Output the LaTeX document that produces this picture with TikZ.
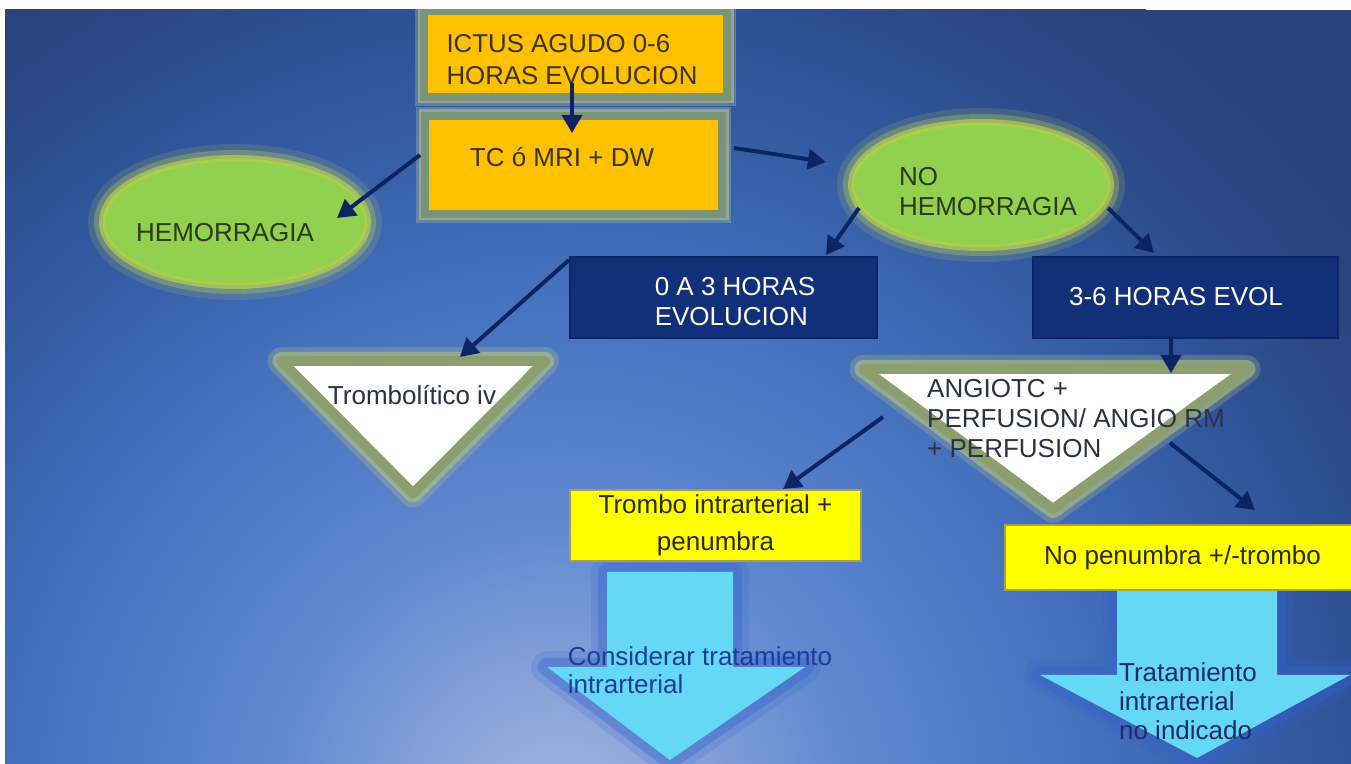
\documentclass[tikz,border=0pt]{standalone}
\usepackage{fontspec}
\setmainfont{Liberation Sans}
\usetikzlibrary{arrows.meta,shapes.geometric}
\definecolor{bgA}{HTML}{A4B8E0}
\definecolor{bgB}{HTML}{90A9DB}
\definecolor{bgC}{HTML}{5F88D0}
\definecolor{bgD}{HTML}{4470BC}
\definecolor{bgE}{HTML}{3258A0}
\definecolor{bgF}{HTML}{2A4884}
\definecolor{bgG}{HTML}{27427C}
\definecolor{orangec}{HTML}{FFC000}
\definecolor{oborder}{HTML}{7A9478}
\definecolor{oglow}{HTML}{B0C098}
\definecolor{greenc}{HTML}{92D050}
\definecolor{grim}{HTML}{A8D048}
\definecolor{gglow}{HTML}{C4D850}
\definecolor{navyc}{HTML}{12307A}
\definecolor{navyd}{HTML}{0C2566}
\definecolor{trib}{HTML}{8C9E6E}
\definecolor{tglow}{HTML}{C2CC80}
\definecolor{yellowc}{HTML}{FFFF00}
\definecolor{yborder}{HTML}{A8A040}
\definecolor{cyanc}{HTML}{64D8F4}
\definecolor{cglow}{HTML}{3362CC}
\definecolor{arrowc}{HTML}{0C2464}
\definecolor{txtor}{HTML}{3A3414}
\definecolor{txtgr}{HTML}{2E3A18}
\definecolor{txttri}{HTML}{2C3048}
\definecolor{txtyel}{HTML}{2A2A0E}
\definecolor{txtcya}{HTML}{1E3C9A}
\definecolor{txtcyb}{HTML}{1E2C66}
\pgfdeclareradialshading{bgshade}{\pgfpoint{0bp}{0bp}}{color(0bp)=(bgA); color(2.5bp)=(bgB); color(7.5bp)=(bgC); color(13.5bp)=(bgD); color(18.5bp)=(bgE); color(22.5bp)=(bgF); color(25bp)=(bgG); color(50bp)=(bgG)}
\begin{document}
\begin{tikzpicture}[x=0.5pt,y=-0.5pt,
  every node/.style={inner sep=0pt, outer sep=0pt, font=\fontsize{13}{15}\selectfont},
  conn/.style={draw=arrowc, line width=2pt, -{Triangle[length=9pt,width=10pt]}},
  obox/.style={rectangle, fill=orangec, draw=oborder, line width=4pt,
     preaction={draw=oglow, line width=9pt, opacity=.35},
     preaction={draw=oglow, line width=6.5pt, opacity=.6}},
  gell/.style={ellipse, fill=greenc, draw=grim, line width=1.5pt,
     preaction={draw=gglow, line width=16pt, opacity=.15},
     preaction={draw=gglow, line width=10pt, opacity=.3},
     preaction={draw=gglow, line width=5pt, opacity=.6}},
  nbox/.style={rectangle, fill=navyc, draw=navyd, line width=1pt},
  ybox/.style={rectangle, fill=yellowc, draw=yborder, line width=1pt},
  tri/.style={fill=white, draw=trib, line width=5pt, line join=round,
     preaction={draw=tglow, line width=14pt, opacity=.25, line join=round},
     preaction={draw=tglow, line width=9pt, opacity=.5, line join=round}},
  cyarrow/.style={fill=cyanc, line join=round,
     preaction={draw=cglow, line width=16pt, opacity=.18, line join=round},
     preaction={draw=cglow, line width=9pt, opacity=.35, line join=round}}
]
\useasboundingbox (0,0) rectangle (1351,764);
\fill[white] (0,0) rectangle (1351,764);
\begin{scope}
\clip (5,10) rectangle (1351,764);
\fill[bgG] (5,10) rectangle (1351,764);
\shade[shading=bgshade] (560,820) circle (500pt);

% orange boxes
\node[obox, minimum width=151.5pt, minimum height=43pt] (ictus) at (575.5,54) {};
\node[text=txtor, align=left, font=\fontsize{12.9}{16}\selectfont] (ictust) at (572,60) {ICTUS AGUDO 0-6\\HORAS EVOLUCION};
\node[obox, minimum width=148.5pt, minimum height=49pt] (tc) at (573.5,165) {};
\node[text=txtor] (tct) at (562,157) {TC ó MRI + DW};

% green ellipses
\node[gell, minimum width=131pt, minimum height=62pt] (hem) at (235,222) {};
\node[text=txtgr] (hemt) at (225,233) {HEMORRAGIA};
\node[gell, minimum width=128pt, minimum height=61pt] (nohem) at (981,185) {};
\node[text=txtgr, align=left] (nohemt) at (988,192) {NO\\HEMORRAGIA};

% navy boxes
\node[nbox, minimum width=153.5pt, minimum height=40.5pt] (b03) at (723.5,297.5) {};
\node[text=white, align=left] (b03t) at (735,302) {0 A 3 HORAS\\EVOLUCION};
\node[nbox, minimum width=152.5pt, minimum height=40.5pt] (b36) at (1185.5,297.5) {};
\node[text=white] (b36t) at (1176,297) {3-6 HORAS EVOL};

% triangles
\coordinate (t1a) at (281.5,361);
\coordinate (t1b) at (545,361);
\coordinate (t1c) at (413,493.5);
\path[tri] (t1a) -- (t1b) -- (t1c) -- cycle;
\node[text=txttri] (t1t) at (412,395) {Trombolítico iv};
\coordinate (t2a) at (863.5,369);
\coordinate (t2b) at (1246.5,369);
\coordinate (t2c) at (1053,509);
\path[tri] (t2a) -- (t2b) -- (t2c) -- cycle;
\node[text=txttri, align=left] (t2t) at (1076,419) {ANGIOTC +\\PERFUSION/ ANGIO RM\\+ PERFUSION};

% cyan block arrows
\path[cyarrow] (607,572) -- (733,572) -- (733,667) -- (805,667) -- (670,760) -- (547,667) -- (607,667) -- cycle;
\path[cyarrow] (1117,590) -- (1277,590) -- (1277,675) -- (1350,675) -- (1197,758) -- (1040,675) -- (1117,675) -- cycle;
\node[text=txtcya, align=left, font=\fontsize{13}{14}\selectfont] (cy1t) at (700,670) {Considerar tratamiento\\intrarterial};
\node[text=txtcyb, align=left, font=\fontsize{13}{14.5}\selectfont] (cy2t) at (1188,701) {Tratamiento\\intrarterial\\no indicado};

% yellow boxes
\node[ybox, minimum width=145.5pt, minimum height=35.5pt, align=center, text=txtyel,
      font=\fontsize{13}{18.5}\selectfont] (ytr) at (715.5,525.5) {Trombo intrarterial +\\penumbra};
\node[ybox, minimum width=177.5pt, minimum height=32.5pt, text=txtyel] (ynp) at (1182.5,557.5) {No penumbra +/-trombo};

% connectors
\coordinate (c1s) at (572,83);   \coordinate (c1e) at (572,133);
\coordinate (c2s) at (420,155);  \coordinate (c2e) at (337,218);
\coordinate (c3s) at (734,148);  \coordinate (c3e) at (826,162);
\coordinate (c4s) at (859,208);  \coordinate (c4e) at (826,255);
\coordinate (c5s) at (1108,208); \coordinate (c5e) at (1154,253);
\coordinate (c6s) at (569,260);  \coordinate (c6e) at (460,357);
\coordinate (c7s) at (1171,338); \coordinate (c7e) at (1171,373);
\coordinate (c8s) at (883,417);  \coordinate (c8e) at (783,489);
\coordinate (c9s) at (1170,443); \coordinate (c9e) at (1255,510);
\draw[conn] (c1s) -- (c1e);
\draw[conn] (c2s) -- (c2e);
\draw[conn] (c3s) -- (c3e);
\draw[conn] (c4s) -- (c4e);
\draw[conn] (c5s) -- (c5e);
\draw[conn] (c6s) -- (c6e);
\draw[conn] (c7s) -- (c7e);
\draw[conn] (c8s) -- (c8e);
\draw[conn] (c9s) -- (c9e);
\end{scope}
\end{tikzpicture}
\end{document}
